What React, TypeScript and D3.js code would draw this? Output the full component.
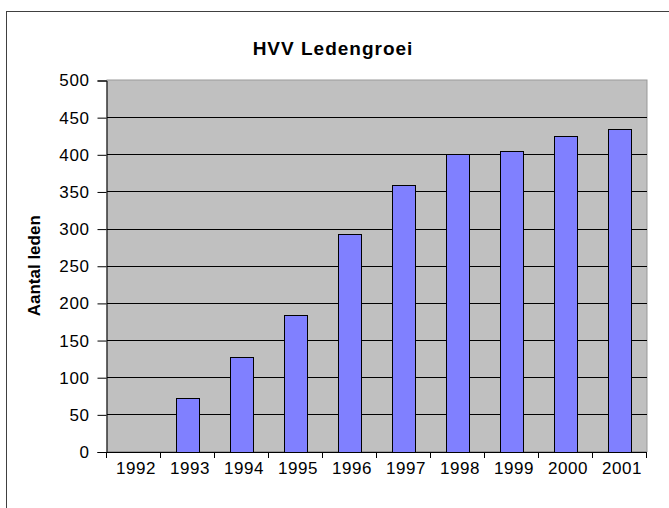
import { useEffect, useRef } from 'react';
import * as d3 from 'd3';

const years = ['1992', '1993', '1994', '1995', '1996', '1997', '1998', '1999', '2000', '2001'];
const members = [0, 72, 127, 184, 293, 359, 401, 404, 425, 434];
const yTicks = [0, 50, 100, 150, 200, 250, 300, 350, 400, 450, 500];

const FONT = 'Arial, "Liberation Sans", sans-serif';

export default function App() {
  const svgRef = useRef<SVGSVGElement>(null);

  useEffect(() => {
    if (!svgRef.current) return;
    const svg = d3.select(svgRef.current);
    svg.selectAll('*').remove();

    const W = 669;
    const H = 508;
    const plot = { left: 107, right: 647, top: 80, bottom: 451.5 };

    svg.attr('width', W).attr('height', H);

    // outer chart frame (runs off the right and bottom edge)
    svg.append('rect')
      .attr('x', 6.5).attr('y', 11.5)
      .attr('width', 720).attr('height', 600)
      .attr('fill', '#fff')
      .attr('stroke', '#404040');

    const x = d3.scaleBand<string>()
      .domain(years)
      .range([plot.left, plot.right])
      .paddingInner(0.57)
      .paddingOuter(0.285);

    const xOuter = d3.scaleBand<string>()
      .domain(years)
      .range([plot.left, plot.right]);

    const y = d3.scaleLinear()
      .domain([0, 500])
      .range([plot.bottom, plot.top]);

    // plot background
    svg.append('rect')
      .attr('x', plot.left).attr('y', plot.top)
      .attr('width', plot.right - plot.left)
      .attr('height', plot.bottom - plot.top)
      .attr('fill', '#c0c0c0')
      .attr('stroke', '#999');

    // gridlines
    svg.append('g')
      .selectAll('line')
      .data(yTicks.filter(t => t > 0 && t < 500))
      .enter().append('line')
      .attr('x1', plot.left).attr('x2', plot.right)
      .attr('y1', d => Math.round(y(d)) + 0.5)
      .attr('y2', d => Math.round(y(d)) + 0.5)
      .attr('stroke', '#000');

    // bars
    svg.append('g')
      .selectAll('rect')
      .data(years.map((yr, i) => ({ yr, v: members[i] })).filter(d => d.v > 0))
      .enter().append('rect')
      .attr('x', d => Math.round(x(d.yr)!) + 0.5)
      .attr('y', d => Math.round(y(d.v)) + 0.5)
      .attr('width', Math.round(x.bandwidth()))
      .attr('height', d => Math.round(plot.bottom) - Math.round(y(d.v)))
      .attr('fill', '#8080ff')
      .attr('stroke', '#000');

    // y axis
    const yAxis = d3.axisLeft(y)
      .tickValues(yTicks)
      .tickSize(9)
      .tickPadding(8)
      .tickFormat(d => `${d}`);

    const gy = svg.append('g')
      .attr('transform', `translate(${plot.left - 0.5},0.5)`)
      .call(yAxis);
    gy.select('.domain').attr('stroke', '#000');
    gy.selectAll('line').attr('stroke', '#000');
    gy.selectAll('text')
      .attr('font-family', FONT)
      .attr('font-size', 17)
      .attr('fill', '#000')
      .attr('letter-spacing', 0.6);

    // x axis: ticks at category boundaries
    const boundaries = [...years.map(yr => xOuter(yr)!), plot.right];
    const gx = svg.append('g');
    gx.append('line')
      .attr('x1', plot.left - 9).attr('x2', plot.right)
      .attr('y1', Math.round(plot.bottom) + 0.5)
      .attr('y2', Math.round(plot.bottom) + 0.5)
      .attr('stroke', '#000');
    gx.selectAll('line.tick')
      .data(boundaries)
      .enter().append('line')
      .attr('class', 'tick')
      .attr('x1', d => Math.round(d) - 0.5)
      .attr('x2', d => Math.round(d) - 0.5)
      .attr('y1', Math.round(plot.bottom))
      .attr('y2', Math.round(plot.bottom) + 6)
      .attr('stroke', '#000');
    gx.selectAll('text')
      .data(years)
      .enter().append('text')
      .attr('x', d => xOuter(d)! + xOuter.bandwidth() / 2 + 2)
      .attr('y', 474)
      .attr('text-anchor', 'middle')
      .attr('font-family', FONT)
      .attr('font-size', 17)
      .attr('letter-spacing', 0.6)
      .text(d => d);

    // title
    svg.append('text')
      .attr('x', 333).attr('y', 55)
      .attr('text-anchor', 'middle')
      .attr('font-family', FONT)
      .attr('font-size', 19)
      .attr('font-weight', 'bold')
      .attr('letter-spacing', 1)
      .text('HVV Ledengroei');

    // y axis title
    svg.append('text')
      .attr('transform', `translate(40,${(plot.top + plot.bottom) / 2}) rotate(-90)`)
      .attr('text-anchor', 'middle')
      .attr('font-family', FONT)
      .attr('font-size', 17)
      .attr('font-weight', 'bold')
      .text('Aantal leden');
  }, []);

  return <svg ref={svgRef} style={{ position: 'absolute', left: 0, top: 0 }} />;
}
